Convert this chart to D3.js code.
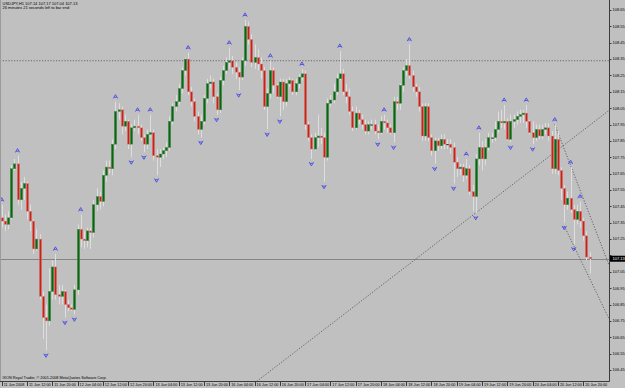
<!DOCTYPE html>
<html lang="en">
<head>
<meta charset="utf-8">
<title>USDJPY,H1</title>
<script src="https://d3js.org/d3.v7.min.js"></script>
<style>
  html, body { margin: 0; padding: 0; background: #c0c0c0; }
  svg { display: block; }
</style>
</head>
<body>
<svg id="chart"></svg>
<script>
// hourly bars, 11 Jun 2008 04:00 .. 20 Jun 2008 22:00 (weekend skipped)
var firstOpen = 107.38;
var closes = [107.36,107.34,107.38,107.68,107.71,107.49,107.56,107.59,107.42,107.36,
              107.19,107.25,106.90,106.77,106.75,106.93,107.08,106.91,106.90,106.93,
              106.85,106.83,106.82,106.94,107.31,107.25,107.24,107.30,107.29,107.46,
              107.51,107.48,107.64,107.69,107.68,107.83,108.03,108.04,107.94,107.97,
              107.83,107.93,107.94,107.93,107.87,107.83,107.89,107.90,107.76,107.75,
              107.77,107.79,107.81,107.97,108.06,108.09,108.17,108.28,108.35,108.15,
              108.09,108.00,107.92,107.97,108.11,108.20,108.21,108.12,108.04,108.22,
              108.28,108.33,108.34,108.30,108.27,108.24,108.34,108.55,108.47,108.33,
              108.36,108.32,108.28,108.06,108.14,108.28,108.19,108.12,108.21,108.09,
              108.20,108.22,108.15,108.20,108.24,108.26,107.95,107.87,107.80,107.87,
              107.88,107.87,107.75,108.08,108.10,108.15,108.23,108.26,108.15,108.12,
              108.03,107.93,108.02,107.98,107.95,107.91,107.95,107.95,107.91,107.90,
              107.97,107.96,107.93,107.90,108.09,108.08,108.19,108.28,108.31,108.25,
              108.18,108.15,108.06,107.88,108.06,107.87,107.79,107.85,107.82,107.86,
              107.83,107.83,107.81,107.72,107.68,107.69,107.64,107.68,107.54,107.51,
              107.74,107.81,107.74,107.81,107.87,107.87,107.92,107.97,107.96,107.97,
              107.86,107.97,107.98,108.00,108.01,108.02,107.97,107.90,107.87,107.92,
              107.88,107.92,107.93,107.88,107.68,107.86,107.67,107.56,107.46,107.50,
              107.43,107.37,107.42,107.36,107.27,107.14,107.13];
var highs = [107.46,107.40,107.42,107.70,107.74,107.76,107.60,107.63,107.60,107.46,
             107.37,107.31,107.28,106.93,106.85,107.07,107.12,107.16,106.97,106.97,
             106.94,106.88,106.85,106.97,107.34,107.40,107.30,107.32,107.32,107.49,
             107.56,107.54,107.67,107.73,107.73,107.86,108.09,108.08,108.06,108.01,
             107.98,107.95,107.98,108.01,107.95,107.89,107.92,108.01,107.92,107.80,
             107.80,107.81,107.84,108.00,108.08,108.13,108.20,108.30,108.36,108.39,
             108.18,108.11,108.03,108.01,108.13,108.23,108.25,108.23,108.14,108.24,
             108.31,108.36,108.42,108.37,108.33,108.30,108.36,108.59,108.58,108.50,
             108.44,108.41,108.36,108.30,108.17,108.34,108.30,108.20,108.23,108.23,
             108.23,108.24,108.23,108.23,108.26,108.29,108.28,107.97,107.89,107.90,
             108.01,107.93,107.90,108.11,108.13,108.20,108.26,108.40,108.29,108.20,
             108.17,108.06,108.06,108.04,108.01,107.98,107.97,107.98,107.98,107.95,
             108.00,108.01,107.98,107.95,108.12,108.12,108.20,108.30,108.35,108.44,
             108.28,108.20,108.18,108.08,108.08,108.08,107.89,107.87,107.87,107.89,
             107.89,107.86,107.86,107.84,107.75,107.71,107.71,107.74,107.70,107.58,
             107.77,107.90,107.85,107.86,107.90,107.90,107.97,108.03,108.04,108.07,
             107.99,108.01,108.01,108.03,108.04,108.04,108.07,107.98,107.97,107.95,
             107.95,107.95,107.96,107.96,107.91,107.95,107.91,107.69,107.58,107.54,
             107.69,107.46,107.46,107.48,107.38,107.30,107.17];
var lows = [107.32,107.30,107.31,107.37,107.67,107.46,107.43,107.49,107.37,107.30,
            107.16,107.18,106.88,106.64,106.57,106.72,106.88,106.88,106.85,106.85,
            106.77,106.81,106.81,106.79,106.91,107.20,107.19,107.20,107.19,107.26,
            107.42,107.43,107.45,107.60,107.65,107.64,107.80,107.98,107.89,107.91,
            107.80,107.75,107.91,107.89,107.85,107.78,107.80,107.87,107.73,107.64,
            107.69,107.74,107.75,107.79,107.95,108.03,108.07,108.14,108.25,108.13,
            108.06,107.97,107.89,107.87,107.95,108.08,108.17,108.08,108.01,108.02,
            108.19,108.26,108.29,108.26,108.23,108.16,108.22,108.31,108.44,108.30,
            108.29,108.28,108.23,108.04,107.92,108.11,108.14,108.11,108.00,108.04,
            108.06,108.18,108.13,108.13,108.17,108.22,107.92,107.85,107.74,107.79,
            107.81,107.83,107.60,107.73,108.06,108.08,108.13,108.22,108.13,108.08,
            108.01,107.91,107.92,107.95,107.92,107.89,107.89,107.92,107.89,107.86,
            107.89,107.92,107.90,107.89,107.84,108.04,108.04,108.15,108.25,108.23,
            108.15,108.12,108.03,107.85,107.85,107.85,107.76,107.71,107.79,107.80,
            107.80,107.80,107.77,107.59,107.63,107.64,107.60,107.62,107.52,107.42,
            107.41,107.70,107.67,107.70,107.79,107.84,107.85,107.90,107.93,107.92,
            107.85,107.84,107.93,107.95,107.96,107.96,107.93,107.89,107.83,107.85,
            107.86,107.86,107.89,107.85,107.65,107.65,107.64,107.49,107.35,107.43,
            107.41,107.22,107.34,107.32,107.24,107.12,107.04];

// bill williams fractals (bar index)
var fractalUp = [0,5,17,25,36,43,47,59,72,77,85,95,107,121,129,147,151,159,166,175,180,183];
var fractalDown = [14,20,23,41,45,49,63,68,75,84,88,98,102,119,124,137,143,150,161,168,178,181];

var timeLabels = ["11 Jun 2008","11 Jun 12:00","11 Jun 20:00","12 Jun 04:00","12 Jun 12:00","12 Jun 20:00",
                  "13 Jun 04:00","13 Jun 12:00","13 Jun 20:00","16 Jun 04:00","16 Jun 12:00","16 Jun 20:00",
                  "17 Jun 04:00","17 Jun 12:00","17 Jun 20:00","18 Jun 04:00","18 Jun 12:00","18 Jun 20:00",
                  "19 Jun 04:00","19 Jun 12:00","19 Jun 20:00","20 Jun 04:00","20 Jun 12:00","20 Jun 20:00"];
var priceTicks = [108.65,108.55,108.45,108.35,108.25,108.15,108.05,107.95,107.85,107.75,107.65,107.55,
                  107.45,107.35,107.25,107.15,107.05,106.95,106.85,106.75,106.65,106.55,106.45];

// drawn objects: [barIndex, price]
var levelLine = 108.34;
var bidPrice = 107.13;
var trendUp = [[80, 106.37], [150, 107.41]];
var trendDownA = [[175, 107.95], [180, 107.70]];
var trendDownB = [[178, 107.33], [181, 107.21]];

var header1 = "USDJPY,H1  107.14 107.17 107.04 107.13";
var header2 = "26 minutes 21 seconds left to bar end";
var copyright = "IXON Royal Trader, \u00a9 2001-2008 MetaQuotes Software Corp.";

var width = 625, height = 388;
var plot = {left: 0, top: 0, right: 609, bottom: 381};

var svg = d3.select("#chart").attr("width", width).attr("height", height)
  .style("font-family", "'Liberation Sans', Arial, sans-serif");

svg.append("rect").attr("width", width).attr("height", height).attr("fill", "#c0c0c0");

var bars = closes.map(function(c, i) {
  return {i: i, o: i == 0 ? firstOpen : closes[i-1], h: highs[i], l: lows[i], c: c};
});

var x = d3.scaleLinear().domain([0, bars.length - 1]).range([1.7, 589.5]);
var y = d3.scaleLinear().domain([106.45, 108.65]).range([370, 10]);

svg.append("clipPath").attr("id", "clip").append("rect")
  .attr("x", plot.left).attr("y", plot.top)
  .attr("width", plot.right - plot.left).attr("height", plot.bottom - plot.top);

var g = svg.append("g").attr("clip-path", "url(#clip)");

// horizontal level, dotted
g.append("line")
  .attr("x1", plot.left).attr("x2", plot.right)
  .attr("y1", y(levelLine)).attr("y2", y(levelLine))
  .attr("stroke", "#505060").attr("stroke-width", 0.8).attr("stroke-dasharray", "1.2,1.6");

// bid line
g.append("line")
  .attr("x1", plot.left).attr("x2", plot.right)
  .attr("y1", Math.round(y(bidPrice)) + 0.5).attr("y2", Math.round(y(bidPrice)) + 0.5)
  .attr("stroke", "#858585").attr("stroke-width", 1);

// trend lines as rays to the right
function ray(pts) {
  var x1 = x(pts[0][0]), y1 = y(pts[0][1]);
  var x2 = x(pts[1][0]), y2 = y(pts[1][1]);
  var k = (y2 - y1) / (x2 - x1);
  return {x1: x1, y1: y1, x2: plot.right, y2: y1 + k * (plot.right - x1)};
}
[trendUp, trendDownA, trendDownB].forEach(function(t) {
  var r = ray(t);
  g.append("line")
    .attr("x1", r.x1).attr("y1", r.y1).attr("x2", r.x2).attr("y2", r.y2)
    .attr("stroke", "#46465e").attr("stroke-width", 0.8).attr("stroke-dasharray", "1.2,1.6");
});

// candles
var candle = g.selectAll("g.bar").data(bars).enter().append("g").attr("class", "bar");

candle.append("line")
  .attr("x1", d => Math.round(x(d.i)) + 0.5).attr("x2", d => Math.round(x(d.i)) + 0.5)
  .attr("y1", d => y(d.h)).attr("y2", d => y(d.l))
  .attr("stroke", "#dedede").attr("stroke-width", 1);

candle.append("rect")
  .attr("x", d => Math.round(x(d.i)) - 0.7)
  .attr("width", 2.4)
  .attr("y", d => y(Math.max(d.o, d.c)))
  .attr("height", d => Math.max(1, Math.abs(y(d.o) - y(d.c))))
  .attr("fill", d => d.c > d.o ? "#0a6612" : (d.c < d.o ? "#c4221a" : "#1c1c1c"))
  .attr("stroke", d => d.c > d.o ? "#4f8f52" : (d.c < d.o ? "#e08a84" : "none"))
  .attr("stroke-width", 0.5);

// fractal arrows
g.selectAll("path.fu").data(fractalUp).enter().append("path")
  .attr("transform", i => "translate(" + x(i) + "," + (y(highs[i]) - 5) + ")")
  .attr("d", "M-2.2,1.8L0,-2L2.2,1.8M-1.3,0.6L1.3,0.6")
  .attr("fill", "none").attr("stroke", "#4a4ae6").attr("stroke-width", 0.9);
g.selectAll("path.fd").data(fractalDown).enter().append("path")
  .attr("transform", i => "translate(" + x(i) + "," + (y(lows[i]) + 5) + ")")
  .attr("d", "M-2.2,-1.8L0,2L2.2,-1.8M-1.3,-0.6L1.3,-0.6")
  .attr("fill", "none").attr("stroke", "#4a4ae6").attr("stroke-width", 0.9);

// axes frame
svg.append("line").attr("x1", plot.right + 0.5).attr("x2", plot.right + 0.5)
  .attr("y1", 0).attr("y2", plot.bottom + 0.5).attr("stroke", "#3c3c3c");
svg.append("line").attr("x1", 0).attr("x2", plot.right + 0.5)
  .attr("y1", plot.bottom + 0.5).attr("y2", plot.bottom + 0.5).attr("stroke", "#3c3c3c");
svg.append("line").attr("x1", 0.5).attr("x2", 0.5)
  .attr("y1", 0).attr("y2", plot.bottom).attr("stroke", "#9c9c9c");

// price scale; the bid marker covers the label next to it
var shownTicks = priceTicks.filter(d => Math.abs(y(d) - y(bidPrice)) > 5);
var py = svg.append("g");
py.selectAll("line").data(priceTicks).enter().append("line")
  .attr("x1", plot.right).attr("x2", plot.right + 2.5)
  .attr("y1", d => Math.round(y(d)) + 0.5).attr("y2", d => Math.round(y(d)) + 0.5)
  .attr("stroke", "#3c3c3c");
py.selectAll("text").data(shownTicks).enter().append("text")
  .attr("x", plot.right + 3.5).attr("y", d => y(d) + 1.4)
  .attr("font-size", "4px").attr("fill", "#000")
  .text(d => d.toFixed(2));

// bid marker
svg.append("rect").attr("x", plot.right + 1).attr("y", y(bidPrice) - 3)
  .attr("width", width - plot.right - 1).attr("height", 6).attr("fill", "#000");
svg.append("text").attr("x", plot.right + 3.5).attr("y", y(bidPrice) + 1.4)
  .attr("font-size", "4px").attr("fill", "#fff").text(bidPrice.toFixed(2));

// time scale
var tx = svg.append("g");
tx.selectAll("line").data(timeLabels).enter().append("line")
  .attr("x1", (d, k) => Math.round(x(k * 8)) + 0.5).attr("x2", (d, k) => Math.round(x(k * 8)) + 0.5)
  .attr("y1", plot.bottom).attr("y2", plot.bottom + 5)
  .attr("stroke", "#3c3c3c");
tx.selectAll("text").data(timeLabels).enter().append("text")
  .attr("x", (d, k) => x(k * 8) + 2).attr("y", plot.bottom + 4.6)
  .attr("font-size", "3.8px").attr("fill", "#000")
  .text(d => d);

// captions
svg.append("text").attr("x", 2.5).attr("y", 5.2).attr("font-size", "4px").text(header1);
svg.append("text").attr("x", 2.5).attr("y", 9.4).attr("font-size", "4px").text(header2);
svg.append("text").attr("x", 2.5).attr("y", plot.bottom - 2.5).attr("font-size", "3.8px").text(copyright);
</script>
</body>
</html>
